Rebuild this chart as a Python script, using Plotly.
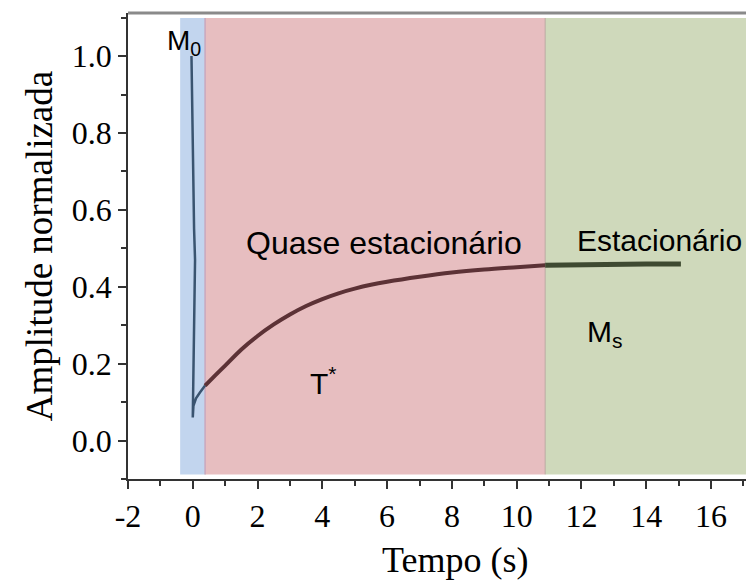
import plotly.graph_objects as go

# Relaxation signal, split by regime
t_initial = [-0.04, -0.02, 0.0, 0.04, 0.07, 0.05, 0.02, 0.0, 0.02, 0.10, 0.22, 0.38]
amp_initial = [1.0, 0.85, 0.70, 0.55, 0.47, 0.38, 0.20, 0.06, 0.09, 0.11, 0.125, 0.143]

t_quasi = [0.38, 0.7, 1.0, 1.5, 2.0, 2.5, 3.0, 3.5, 4.0, 4.5, 5.0, 5.5, 6.0, 7.0,
           8.0, 9.0, 10.0, 10.88]
amp_quasi = [0.143, 0.17, 0.195, 0.237, 0.272, 0.302, 0.328, 0.35, 0.368, 0.383,
             0.395, 0.405, 0.413, 0.426, 0.437, 0.445, 0.451, 0.456]

t_stat = [10.88, 12.0, 13.0, 14.0, 15.07]
amp_stat = [0.456, 0.458, 0.459, 0.459, 0.459]

# Regime boundaries (s)
regime_edges = [-0.39, 0.38, 10.88, 17.1]
regime_colors = ["#c2d5ee", "#e7bec0", "#cfd9bb"]

x_ticks = [-2, 0, 2, 4, 6, 8, 10, 12, 14, 16]
x_tick_text = ["-2", "0", "2", "4", "6", "8", "10", "12", "14", "16"]
y_ticks = [0.0, 0.2, 0.4, 0.6, 0.8, 1.0]
y_tick_text = ["0.0", "0.2", "0.4", "0.6", "0.8", "1.0"]

fig = go.Figure()

shapes = []
for i, col in enumerate(regime_colors):
    shapes.append(dict(type="rect", xref="x", yref="y",
                       x0=regime_edges[i], x1=regime_edges[i + 1],
                       y0=-0.088, y1=1.099, fillcolor=col,
                       line=dict(width=0), layer="below"))
# thin border lines between regions
shapes.append(dict(type="line", xref="x", yref="y", x0=regime_edges[1], x1=regime_edges[1],
                   y0=-0.088, y1=1.099, line=dict(color="#c9a7bd", width=1.5), layer="below"))
shapes.append(dict(type="line", xref="x", yref="y", x0=regime_edges[2], x1=regime_edges[2],
                   y0=-0.088, y1=1.099, line=dict(color="#b9a9a0", width=1), layer="below"))
# top frame line
shapes.append(dict(type="line", xref="paper", yref="paper", x0=0, x1=1, y0=1, y1=1,
                   line=dict(color="#8a8a8a", width=3)))

fig.add_trace(go.Scatter(x=t_initial, y=amp_initial, mode="lines",
                         line=dict(color="#3a5470", width=2.5), showlegend=False))
fig.add_trace(go.Scatter(x=t_quasi, y=amp_quasi, mode="lines",
                         line=dict(color="#5c3236", width=4, shape="spline"), showlegend=False))
fig.add_trace(go.Scatter(x=t_stat, y=amp_stat, mode="lines",
                         line=dict(color="#3e4a31", width=5), showlegend=False))

sans = "Liberation Sans, Arial, sans-serif"
serif = "Liberation Serif, Times New Roman, serif"
label_font = dict(family=sans, size=30, color="black")
annotations = [
    dict(x=-0.26, y=1.036, text="M<sub>0</sub>", showarrow=False,
         font=dict(family=sans, size=28, color="black")),
    dict(x=5.91, y=0.513, text="Quase estacionário", showarrow=False,
         font=dict(family=sans, size=32, color="black")),
    dict(x=14.4, y=0.52, text="Estacionário", showarrow=False, font=label_font),
    dict(x=12.73, y=0.279, text="M<sub>s</sub>", showarrow=False, font=label_font),
    dict(x=4.05, y=0.156, text="T<sup>*</sup>", showarrow=False, font=label_font),
    # x-axis title
    dict(xref="paper", yref="paper", x=0.529, y=-0.174, xanchor="center", yanchor="middle",
         text="Tempo (s)", showarrow=False, font=dict(family=serif, size=36, color="black")),
]

fig.update_layout(
    width=746, height=583,
    margin=dict(l=128, r=0, t=13, b=104),
    plot_bgcolor="white", paper_bgcolor="white",
    shapes=shapes, annotations=annotations,
    xaxis=dict(range=[-2, 17.08], tickvals=x_ticks, ticktext=x_tick_text,
               ticks="outside", ticklen=8, tickwidth=1.5, tickcolor="#333",
               showline=True, linecolor="#333", linewidth=1.5,
               minor=dict(ticks="outside", ticklen=5, tickwidth=1.5, tickcolor="#333", dtick=1),
               showgrid=False, zeroline=False,
               tickfont=dict(family=serif, size=32, color="black")),
    yaxis=dict(range=[-0.1, 1.112], tickvals=y_ticks, ticktext=y_tick_text,
               ticks="outside", ticklen=8, tickwidth=1.5, tickcolor="#333",
               showline=True, linecolor="#333", linewidth=1.5,
               minor=dict(ticks="outside", ticklen=5, tickwidth=1.5, tickcolor="#333", dtick=0.1),
               showgrid=False, zeroline=False,
               tickfont=dict(family=serif, size=32, color="black"),
               title=dict(text="Amplitude normalizada",
                          font=dict(family=serif, size=37, color="black"), standoff=8)),
)

fig.write_html("out.html")
